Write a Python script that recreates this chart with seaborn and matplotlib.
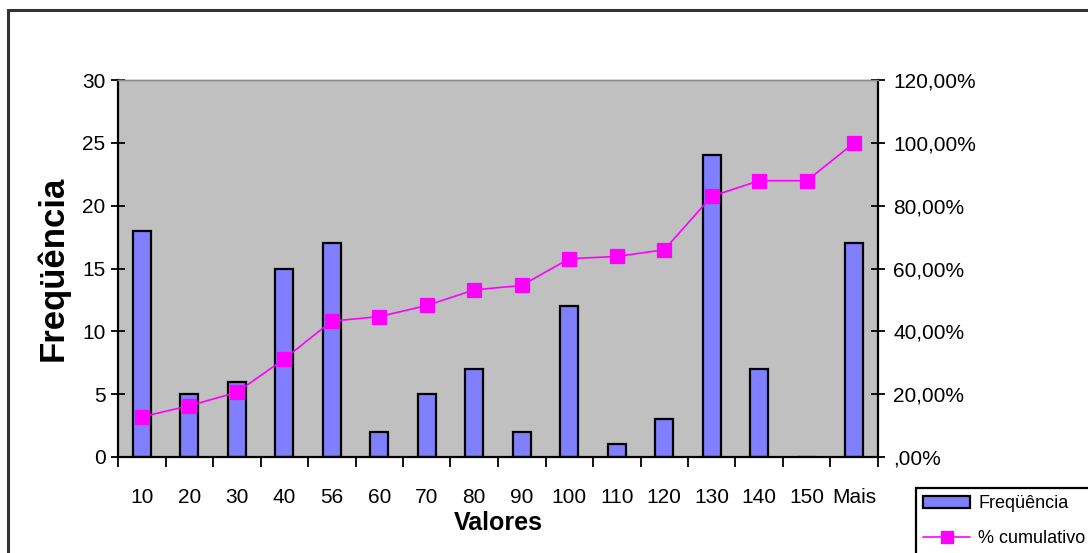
import matplotlib
matplotlib.use("Agg")
import matplotlib.pyplot as plt
import seaborn as sns
import pandas as pd
from matplotlib.patches import Rectangle, Patch
from matplotlib.lines import Line2D
from matplotlib.ticker import FixedLocator, FuncFormatter

# Histogram bins and counts with cumulative percentage (Pareto style)
bins = ["10", "20", "30", "40", "56", "60", "70", "80", "90", "100",
        "110", "120", "130", "140", "150", "Mais"]
frequencia = [18, 5, 6, 15, 17, 2, 5, 7, 2, 12, 1, 3, 24, 7, 0, 17]
cumulativo = [12.77, 16.31, 20.57, 31.21, 43.26, 44.68, 48.23, 53.19,
              54.61, 63.12, 63.83, 65.96, 82.98, 87.94, 87.94, 100.00]

left_ticks = [0, 5, 10, 15, 20, 25, 30]
right_ticks = [0, 20, 40, 60, 80, 100, 120]

BAR_COLOR = "#8080FF"
LINE_COLOR = "#FF00FF"
PLOT_BG = "#C0C0C0"

sns.set_theme(style="white")
plt.rcParams["font.family"] = ["Liberation Sans", "DejaVu Sans"]
plt.rcParams.update({"text.color": "black", "axes.labelcolor": "black",
                     "xtick.color": "black", "ytick.color": "black"})

df = pd.DataFrame({"Valores": bins, "Freq": frequencia, "Cum": cumulativo})

fig = plt.figure(figsize=(10.88, 5.53), dpi=100)
fig.patch.set_facecolor("white")
ax = fig.add_axes([118 / 1088, 1 - 457 / 553, 760 / 1088, 377 / 553])
ax.set_facecolor(PLOT_BG)

sns.barplot(data=df, x="Valores", y="Freq", ax=ax, color=BAR_COLOR,
            width=0.38, edgecolor="black", linewidth=1.6, saturation=1)
ax.set_xlim(-0.5, len(bins) - 0.5)
ax.set_ylim(0, 30)

ax2 = ax.twinx()
sns.pointplot(data=df, x="Valores", y="Cum", ax=ax2, color=LINE_COLOR,
              markers="s", markersize=9.5, linewidth=1.2)
ax2.set_xlim(-0.5, len(bins) - 0.5)
ax2.set_ylim(0, 120)

# Left axis
ax.set_yticks(left_ticks)
ax.tick_params(axis="y", direction="inout", length=10, width=1.3,
               labelsize=15, pad=4, colors="black", left=True)
ax.set_ylabel("Freqüência", fontsize=25, fontweight="bold", labelpad=9,
              color="black")

# Category axis: ticks between categories, labels at centers
ax.xaxis.set_major_locator(FixedLocator([i - 0.5 for i in range(len(bins) + 1)]))
ax.xaxis.set_major_formatter(FuncFormatter(lambda v, p: ""))
ax.set_xticks(range(len(bins)), labels=bins, minor=True)
ax.tick_params(axis="x", which="major", direction="out", length=7, width=1.3,
               bottom=True, colors="black")
ax.tick_params(axis="x", which="minor", length=0, labelsize=15, pad=22,
               bottom=True, colors="black")
ax.set_xlabel("Valores", fontsize=18, fontweight="bold", labelpad=3,
              color="black")

# Right axis
ax2.set_yticks(right_ticks)
ax2.yaxis.set_major_formatter(FuncFormatter(
    lambda v, p: ",00%" if v == 0 else f"{int(v)},00%"))
ax2.tick_params(axis="y", direction="inout", length=10, width=1.3,
                labelsize=15, pad=6, colors="black", right=True)
ax2.set_ylabel("")
ax2.set_xlabel("")

for a in (ax, ax2):
    for side in ("left", "bottom", "right"):
        a.spines[side].set_color("black")
        a.spines[side].set_linewidth(1.6)
    a.spines["top"].set_color("#8c8c8c")
    a.spines["top"].set_linewidth(1.0)
ax.spines["right"].set_visible(False)
ax2.spines["left"].set_visible(False)
ax2.spines["bottom"].set_visible(False)

# Outer chart frame
fig.patches.append(Rectangle((8 / 1088, -0.05), 1.2, 1 - 10 / 553 + 0.05,
                             transform=fig.transFigure, fill=False,
                             edgecolor="#333333", linewidth=2.2))

handles = [Patch(facecolor=BAR_COLOR, edgecolor="black", linewidth=1.6),
           Line2D([], [], color=LINE_COLOR, marker="s", markersize=9, linewidth=1.2)]
leg = fig.legend(handles, ["Freqüência", "% cumulativo"],
                 loc="upper left", bbox_to_anchor=(916 / 1088, 1 - 488 / 553),
                 fontsize=13, frameon=True, fancybox=False, framealpha=1,
                 edgecolor="black", borderpad=0.4, handlelength=2.6,
                 handleheight=0.6, labelspacing=1.0, handletextpad=0.45,
                 borderaxespad=0, labelcolor="black")
leg.get_frame().set_linewidth(1.6)

fig.savefig("out.png", dpi=100)
